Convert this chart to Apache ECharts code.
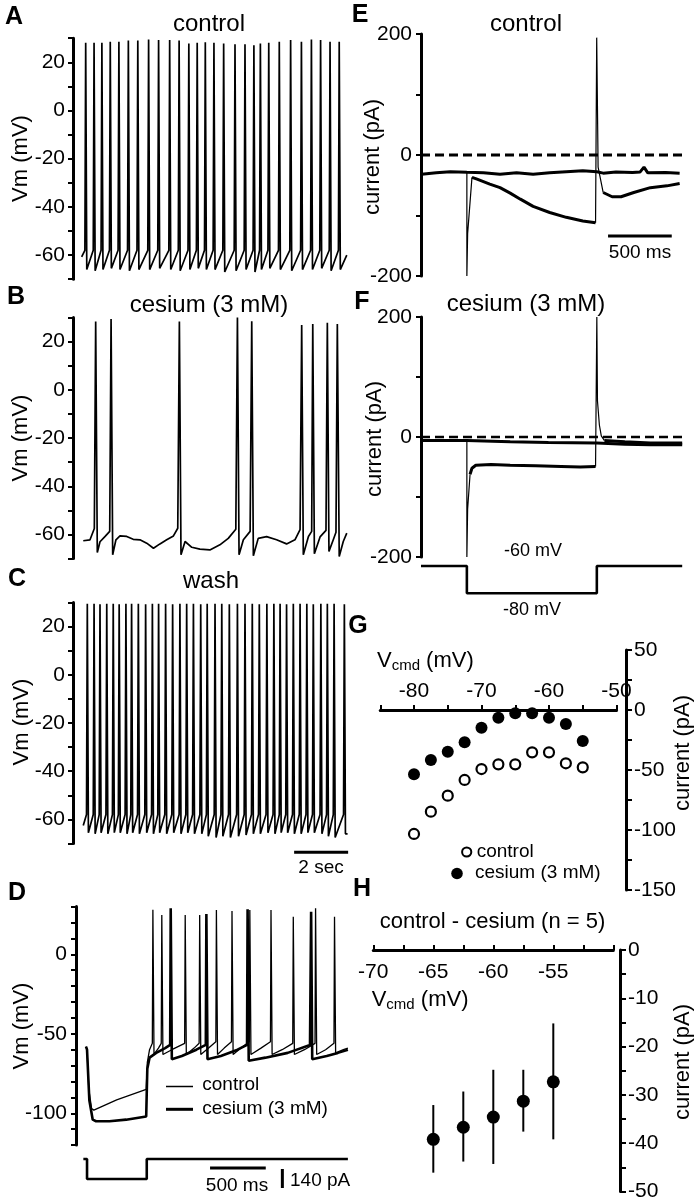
<!DOCTYPE html>
<html><head><meta charset="utf-8">
<script src="https://cdn.jsdelivr.net/npm/echarts@6/dist/echarts.min.js"></script>
<style>html,body{margin:0;padding:0;background:#fff}#c{width:694px;height:1200px}</style>
</head><body><div id="c"></div>
<script>
const FONT = '"Liberation Sans", Arial, Helvetica, sans-serif';

// ---------- Panel A: control (time s, Vm mV) ----------
const aStart = [0.32, -60.7];
const aEnd = [10.14, -60];
const aSpikeTimes = [0.47,0.78,1.07,1.38,1.70,2.05,2.40,2.80,3.17,3.58,3.93,4.29,4.60,4.90,5.22,5.58,6.00,6.37,6.70,6.94,7.25,7.64,8.06,8.46,8.83,9.17,9.52,9.86];
const aPeaks = [28.1,28.1,28.1,28.5,28.5,29,29,29.5,29.2,29.2,29,27.8,28.1,28.3,28.1,27.8,27.5,27.5,27.1,27.8,28.1,28.5,29.2,28.5,29.5,29.2,28.5,28.5];
const aTroughs = [-66,-66.5,-66,-65.5,-66,-66.5,-66,-66,-65.5,-66,-66.5,-66,-65.5,-66,-66,-67,-66.5,-66,-67,-66,-65.5,-66,-66.5,-66,-66,-65.5,-66.5,-66];
const aThreshold = -58;

// ---------- Panel B: cesium (3 mM), full trace [t, Vm] ----------
const bTrace = [[0.38,-62.6],[0.63,-62.2],[0.79,-57.5],[0.84,28.4],[0.90,-67.5],[1.0,-63],[1.19,-60.8],[1.36,-58.7],[1.41,29.4],[1.47,-68.4],[1.59,-62.2],[1.74,-60.6],[1.99,-60.8],[2.23,-62],[2.48,-62.2],[2.73,-63.6],[2.98,-65.7],[3.22,-63.9],[3.47,-62.2],[3.72,-60.6],[3.88,-57.4],[3.94,28.4],[4.0,-68.4],[4.15,-62.9],[4.40,-65.3],[4.70,-66.1],[5.07,-66.4],[5.44,-64.3],[5.75,-61.6],[6.03,-57.8],[6.09,30],[6.15,-68.4],[6.31,-62.2],[6.56,-58.7],[6.62,28.5],[6.68,-68.8],[6.86,-61.6],[7.17,-60.9],[7.54,-62.2],[7.91,-63.9],[8.22,-62.2],[8.41,-58],[8.47,26.9],[8.53,-68.4],[8.72,-60.8],[8.84,-58.7],[8.88,27.3],[8.94,-68],[9.15,-61],[9.37,-58.3],[9.42,27.9],[9.48,-67],[9.64,-62.2],[9.74,-59.1],[9.79,27.3],[9.86,-69.1],[10.01,-62.9],[10.14,-59.4]];

// ---------- Panel C: wash ----------
const cStart = [0.38, -62.5];
const cEnd = [10.17, -66];
const cSpikeTimes = [0.53,0.78,1.0,1.25,1.49,1.71,1.96,2.17,2.42,2.69,2.94,3.17,3.43,3.69,3.96,4.21,4.46,4.73,4.97,5.26,5.51,5.79,6.09,6.37,6.64,6.90,7.18,7.44,7.67,7.91,8.16,8.41,8.66,8.90,9.18,9.42,9.67,10.05];
const cPeaks = [29.5,29.5,29.3,29.5,29.5,29.3,29.5,29.5,29.5,29.3,29.5,29.5,29.5,29.3,29.5,29.5,29.5,29.3,29.5,29.5,29.5,29.3,29.5,29.5,29.5,29.3,29.5,29.5,29.5,29.3,29.5,29.5,29.5,29.3,29.5,29.5,29.5,29.3];
const cTroughs = [-65.5,-66,-65.5,-66,-65.5,-65.5,-66,-65.5,-66,-65.5,-66,-65.5,-66,-65.5,-66,-65.5,-66,-66,-67,-67.5,-67,-67.5,-67,-66.5,-66,-66,-65.5,-66,-65.5,-65.5,-66,-66,-65.5,-65.5,-66,-67,-67.5,-66];
const cThreshold = -58;

// ---------- Panel D: current step (time s, Vm mV) ----------
const dControl = [[0.09,-58],[0.099,-60],[0.115,-85],[0.14,-97],[0.16,-98],[0.365,-91.5],[0.63,-85],[0.64,-68],[0.66,-60],[0.685,-56],[0.69,28],[0.70,-63],[0.74,-59],[0.765,-56],[0.77,24.7],[0.78,-63],[0.86,-60],[0.975,-56],[0.98,24.7],[0.99,-63],[1.06,-59],[1.105,-56],[1.11,24.7],[1.12,-63],[1.19,-59],[1.255,-55],[1.26,27.9],[1.27,-63],[1.33,-59],[1.395,-55],[1.40,27.3],[1.41,-63],[1.48,-59],[1.555,-55],[1.56,27.9],[1.57,-63],[1.66,-59],[1.745,-55],[1.75,27.9],[1.76,-63],[1.85,-60],[1.945,-56],[1.95,23.6],[1.96,-63],[2.05,-60],[2.145,-56],[2.15,28.9],[2.16,-63],[2.24,-60],[2.315,-56],[2.32,23.6],[2.33,-62],[2.40,-60],[2.44,-59]];
const dCesium = [[0.09,-58],[0.099,-60],[0.12,-92],[0.15,-104],[0.18,-105],[0.30,-105],[0.45,-104],[0.63,-102],[0.64,-72],[0.66,-65],[0.72,-62],[0.80,-59],[0.845,-57],[0.85,28.9],[0.86,-66],[0.95,-64],[1.08,-60],[1.165,-57],[1.17,25.4],[1.18,-66],[1.30,-64],[1.45,-60],[1.535,-57],[1.54,28.3],[1.55,-67],[1.70,-65],[1.90,-62],[2.10,-57],[2.11,26.8],[2.12,-66],[2.25,-64],[2.35,-62],[2.44,-60]];
const dStim = [[0.066,0],[0.099,0],[0.099,-1],[0.635,-1],[0.635,0],[2.44,0]];

// ---------- Panel E: control, voltage clamp (time s, current pA) ----------
const eHold = [[0.005,-32],[0.12,-29.5],[0.23,-27.7],[0.36,-28.7],[0.49,-29.5],[0.62,-32],[0.75,-29.5],[0.88,-32],[1.01,-29.5],[1.14,-27.7],[1.27,-26],[1.38,-27.7],[1.43,-30],[1.53,-28],[1.66,-29],[1.72,-28],[1.75,-20],[1.78,-29.5],[1.92,-29],[2.03,-30]];
const eStepOn = [[0.36,-28],[0.36,-200],[0.366,-130],[0.40,-37]];
const eSag = [[0.40,-37],[0.44,-40],[0.54,-48],[0.62,-54],[0.70,-63],[0.78,-73],[0.88,-85],[1.01,-95],[1.14,-103],[1.27,-109],[1.37,-112]];
const eStepOff = [[1.37,-112],[1.379,-112],[1.379,194],[1.39,-20],[1.43,-62]];
const eTail = [[1.43,-62],[1.50,-69],[1.57,-69],[1.67,-62],[1.80,-54],[1.93,-51],[2.03,-47]];

// ---------- Panel F: cesium, voltage clamp ----------
const fHold = [[0,-6],[0.36,-6],[0.7,-8],[1.0,-9],[1.38,-10],[1.6,-12],[1.8,-13],[2.05,-13]];
const fStepOn = [[0.36,-6],[0.36,-200],[0.366,-120],[0.385,-62]];
const fStep = [[0.385,-62],[0.40,-52],[0.43,-47],[0.55,-46],[0.70,-47],[0.90,-48],[1.10,-49],[1.25,-50],[1.37,-49]];
const fStepOff = [[1.37,-49],[1.38,-49],[1.38,200],[1.385,60],[1.40,20],[1.415,2],[1.44,-6]];
const fTail = [[1.44,-6],[1.6,-8],[1.8,-10],[2.05,-10]];
const fCmd = [[0,-60],[0.36,-60],[0.36,-80],[1.38,-80],[1.38,-60],[2.05,-60]];

// ---------- Panel G: I-V ----------
const gVcmd = [-80,-77.5,-75,-72.5,-70,-67.5,-65,-62.5,-60,-57.5,-55];
const gControl = [-103.3,-84.7,-71.4,-58.3,-49.2,-45.3,-45.3,-35.3,-35.3,-44.4,-47.8];
const gCesium = [-53.6,-41.7,-34.7,-26.9,-14.7,-6.4,-2.8,-2.8,-6.4,-11.7,-25.8];

// ---------- Panel H: control - cesium (n = 5) ----------
const hVcmd = [-65,-62.5,-60,-57.5,-55];
const hMean = [-39.2,-36.7,-34.6,-31.3,-27.3];
const hLow = [-46.1,-43.8,-44.3,-37.6,-39.2];
const hHigh = [-32.1,-29.3,-24.8,-24.8,-15.2];

// ---------- build helpers ----------
function train(start, times, peaks, troughs, thr, end) {
  const pts = [start];
  times.forEach((t, i) => { pts.push([t - 0.03, thr], [t, peaks[i]], [t + 0.04, troughs[i]]); });
  pts.push(end);
  return pts;
}
function zip(xs, ys) { return xs.map((x, i) => [x, ys[i]]); }

const BLACK = '#000';
function yAx(gi, min, max, interval, every, extra) {
  return Object.assign({
    gridIndex: gi, type: 'value', min, max, interval,
    axisLine: { show: true, onZero: false, lineStyle: { color: BLACK, width: 3 } },
    axisTick: { show: true, length: 5, lineStyle: { color: BLACK, width: 2 } },
    axisLabel: { show: true, color: BLACK, fontSize: 21, fontFamily: FONT, margin: 8,
      formatter: v => (Math.abs(v % every) < 1e-9 ? String(v) : '') },
    splitLine: { show: false }
  }, extra || {});
}
function xHidden(gi, min, max) {
  return { gridIndex: gi, type: 'value', min, max, show: false, splitLine: { show: false } };
}
function line(xi, data, width, extra) {
  return Object.assign({ type: 'line', xAxisIndex: xi, yAxisIndex: xi, data, showSymbol: false, symbol: 'none',
    silent: true, lineStyle: { color: BLACK, width }, animation: false }, extra || {});
}

const grids = [
  { left: 73, top: 38.2, width: 275.4, height: 241 },     // 0 A
  { left: 73, top: 317.6, width: 275.4, height: 241 },    // 1 B
  { left: 73, top: 602.5, width: 275.4, height: 241 },    // 2 C
  { left: 76, top: 906.6, width: 273, height: 238.5 },    // 3 D
  { left: 76, top: 1159, width: 273, height: 20 },        // 4 D stim
  { left: 421, top: 34, width: 261.2, height: 242 },      // 5 E
  { left: 421, top: 317, width: 261.2, height: 240 },     // 6 F
  { left: 421, top: 566, width: 261.2, height: 27.3 },    // 7 F cmd
  { left: 380.25, top: 650, width: 236.25, height: 240 }, // 8 G
  { left: 373.3, top: 950, width: 240, height: 241.5 }    // 9 H
].map(g => Object.assign({ outerBoundsMode: 'none', containLabel: false, show: false }, g));

const xAxes = [
  xHidden(0, 0, 10.2), xHidden(1, 0, 10.2), xHidden(2, 0, 10.2),
  xHidden(3, 0, 2.45), xHidden(4, 0, 2.45),
  xHidden(5, 0, 2.05), xHidden(6, 0, 2.05), xHidden(7, 0, 2.05),
  { gridIndex: 8, type: 'value', min: -85, max: -50, interval: 5, position: 'top', offset: -60,
    axisLine: { show: true, onZero: false, lineStyle: { color: BLACK, width: 3 } },
    axisTick: { show: true, length: 5, lineStyle: { color: BLACK, width: 2 } },
    axisLabel: { color: BLACK, fontSize: 21, fontFamily: FONT, margin: 8,
      formatter: v => (Math.abs(v % 10) < 1e-9 ? String(v) : '') },
    splitLine: { show: false } },
  { gridIndex: 9, type: 'value', min: -70, max: -50, interval: 2.5, position: 'top',
    axisLine: { show: true, onZero: false, lineStyle: { color: BLACK, width: 3 } },
    axisTick: { show: true, length: 5, lineStyle: { color: BLACK, width: 2 } },
    axisLabel: { color: BLACK, fontSize: 21, fontFamily: FONT, margin: 12, inside: true,
      formatter: v => (Math.abs(v % 5) < 1e-9 && v !== -50 ? String(v) : '') },
    splitLine: { show: false } }
];

const yAxes = [
  yAx(0, -70, 30, 10, 20), yAx(1, -70, 30, 10, 20), yAx(2, -70, 30, 10, 20),
  yAx(3, -120, 30, 10, 50, { axisLabel: { color: BLACK, fontSize: 21, fontFamily: FONT, margin: 9,
      formatter: v => (Math.abs(v % 50) < 1e-9 ? String(v) : '') } }),
  { gridIndex: 4, type: 'value', min: -1, max: 0, show: false },
  yAx(5, -200, 200, 100, 200, { axisLabel: { color: BLACK, fontSize: 21, fontFamily: FONT, margin: 9,
      formatter: v => (Math.abs(v % 200) < 1e-9 ? String(v) : '') } }),
  yAx(6, -200, 200, 100, 200, { axisLabel: { color: BLACK, fontSize: 21, fontFamily: FONT, margin: 9,
      formatter: v => (Math.abs(v % 200) < 1e-9 ? String(v) : '') } }),
  { gridIndex: 7, type: 'value', min: -80, max: -60, show: false },
  yAx(8, -150, 50, 25, 50, { position: 'right', offset: 9.5,
      axisTick: { show: true, length: 6, lineStyle: { color: BLACK, width: 2 } },
      axisLabel: { color: BLACK, fontSize: 21, fontFamily: FONT, margin: 8,
      formatter: v => (Math.abs(v % 50) < 1e-9 ? String(v) : '') } }),
  yAx(9, -50, 0, 5, 10, { position: 'right', offset: 6.7,
      axisTick: { show: true, length: 6, lineStyle: { color: BLACK, width: 2 } },
      axisLabel: { color: BLACK, fontSize: 21, fontFamily: FONT, margin: 8,
      formatter: v => (Math.abs(v % 10) < 1e-9 ? String(v) : '') } })
];

const series = [
  line(0, train(aStart, aSpikeTimes, aPeaks, aTroughs, aThreshold, aEnd), 1.7),
  line(1, bTrace, 1.7),
  line(2, train(cStart, cSpikeTimes, cPeaks, cTroughs, cThreshold, cEnd), 1.7),
  line(2, [[8.19, -73.6], [10.19, -73.6]], 3, { clip: false }),
  line(3, dControl, 1.3),
  line(3, dCesium, 2.6),
  line(4, dStim, 2.6, { clip: false }),
  line(4, [[1.203, -0.45], [1.703, -0.45]], 3, { clip: false }),
  line(4, [[1.852, -0.5], [1.852, -1.45]], 3, { clip: false }),
  line(5, [[0, 0], [2.05, 0]], 3, { lineStyle: { color: BLACK, width: 3, type: [9, 5] } }),
  line(5, eHold, 3),
  line(5, eStepOn, 1.2),
  line(5, eSag, 3),
  line(5, eStepOff, 1.2),
  line(5, eTail, 3),
  line(5, [[1.468, -134], [1.968, -134]], 3),
  line(6, [[0, 0], [2.05, 0]], 2.5, { lineStyle: { color: BLACK, width: 2.5, type: [9, 5] } }),
  line(6, fHold, 3),
  line(6, fStepOn, 1.2),
  line(6, fStep, 3),
  line(6, fStepOff, 1.2),
  line(6, fTail, 3),
  line(7, fCmd, 2.6, { clip: false }),
  { type: 'scatter', xAxisIndex: 8, yAxisIndex: 8, data: zip(gVcmd, gControl), symbol: 'circle', symbolSize: 10,
    itemStyle: { color: '#fff', borderColor: BLACK, borderWidth: 2.2, opacity: 1 }, silent: true },
  { type: 'scatter', xAxisIndex: 8, yAxisIndex: 8, data: zip(gVcmd, gCesium), symbol: 'circle', symbolSize: 12,
    itemStyle: { color: BLACK, opacity: 1 }, silent: true },
  { type: 'custom', xAxisIndex: 9, yAxisIndex: 9, silent: true,
    data: hVcmd.map((x, i) => [x, hLow[i], hHigh[i]]),
    encode: { x: 0, y: [1, 2] },
    renderItem: (params, api) => {
      const p1 = api.coord([api.value(0), api.value(1)]);
      const p2 = api.coord([api.value(0), api.value(2)]);
      return { type: 'line', shape: { x1: p1[0], y1: p1[1], x2: p2[0], y2: p2[1] },
        style: { stroke: BLACK, lineWidth: 2 } };
    } },
  { type: 'scatter', xAxisIndex: 9, yAxisIndex: 9, data: zip(hVcmd, hMean), symbol: 'circle', symbolSize: 13,
    itemStyle: { color: BLACK, opacity: 1 }, silent: true, z: 5 }
];

function txt(x, y, text, size, extra) {
  return Object.assign({ type: 'text', x, y, silent: true,
    style: Object.assign({ text, fill: BLACK, fontSize: size, fontFamily: FONT, align: 'center', verticalAlign: 'middle' },
      (extra && extra.style) || {}) }, extra && extra.rotation !== undefined ? { rotation: extra.rotation } : {});
}
const R = Math.PI / 2;
const bold = { style: { fontWeight: 'bold' } };
const leftA = { style: { align: 'left' } };
const vcmdRich = { v: { fontSize: 22, fontFamily: FONT, fill: BLACK }, s: { fontSize: 15, fontFamily: FONT, fill: BLACK, padding: [9, 0, 0, 0] } };

const graphics = [
  txt(14, 17, 'A', 25, bold), txt(16, 297, 'B', 25, bold), txt(17, 579, 'C', 25, bold), txt(17, 893, 'D', 25, bold),
  txt(360, 15, 'E', 25, bold), txt(362, 302, 'F', 25, bold), txt(358, 626, 'G', 25, bold), txt(362, 889, 'H', 25, bold),
  txt(209, 24, 'control', 24), txt(209, 305, 'cesium (3 mM)', 24), txt(211, 581, 'wash', 24),
  txt(526, 24, 'control', 24), txt(526, 304, 'cesium (3 mM)', 24),
  txt(21, 158.5, 'Vm (mV)', 22, { rotation: R }), txt(21, 438, 'Vm (mV)', 22, { rotation: R }),
  txt(22, 722, 'Vm (mV)', 22, { rotation: R }), txt(22, 1026, 'Vm (mV)', 22, { rotation: R }),
  txt(373, 157, 'current (pA)', 22, { rotation: R }), txt(375, 439, 'current (pA)', 22, { rotation: R }),
  txt(683, 753, 'current (pA)', 22, { rotation: R }), txt(683, 1062, 'current (pA)', 22, { rotation: R }),
  txt(321, 868, '2 sec', 19), txt(640, 253, '500 ms', 19),
  txt(533, 551, '-60 mV', 18), txt(532, 610, '-80 mV', 18),
  txt(237, 1185.5, '500 ms', 19), txt(290, 1180.5, '140 pA', 19, leftA),
  txt(202.3, 1085, 'control', 19, leftA), txt(202.3, 1108.3, 'cesium (3 mM)', 19, leftA),
  { type: 'line', silent: true, shape: { x1: 166, y1: 1086.5, x2: 193, y2: 1086.5 }, style: { stroke: BLACK, lineWidth: 1.5 } },
  { type: 'line', silent: true, shape: { x1: 166, y1: 1109.3, x2: 193, y2: 1109.3 }, style: { stroke: BLACK, lineWidth: 3 } },
  { type: 'text', x: 377, y: 661, silent: true, style: { text: '{v|V}{s|cmd}{v| (mV)}', rich: vcmdRich, align: 'left', verticalAlign: 'middle' } },
  { type: 'text', x: 371.7, y: 1000, silent: true, style: { text: '{v|V}{s|cmd}{v| (mV)}', rich: vcmdRich, align: 'left', verticalAlign: 'middle' } },
  { type: 'circle', silent: true, shape: { cx: 466.7, cy: 852, r: 4.6 }, style: { fill: '#fff', stroke: BLACK, lineWidth: 2 } },
  txt(476.7, 851.5, 'control', 19, leftA),
  { type: 'circle', silent: true, shape: { cx: 457, cy: 873.5, r: 5.8 }, style: { fill: BLACK } },
  txt(475, 873, 'cesium (3 mM)', 19, leftA),
  txt(492.5, 922, 'control - cesium (n = 5)', 22)
];

const option = {
  animation: false,
  backgroundColor: '#fff',
  textStyle: { fontFamily: FONT, color: BLACK },
  grid: grids, xAxis: xAxes, yAxis: yAxes, series,
  graphic: { elements: graphics }
};
const chart = echarts.init(document.getElementById('c'), null, { renderer: 'canvas' });
chart.setOption(option);
</script>
</body></html>
